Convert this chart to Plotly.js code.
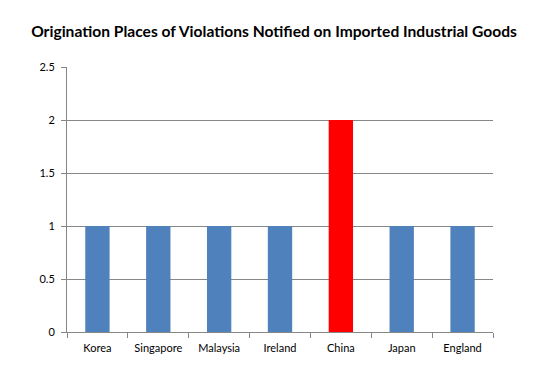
<!DOCTYPE html>
<html>
<head>
<meta charset="utf-8">
<script src="https://cdn.plot.ly/plotly-3.0.1.min.js"></script>
<style>html,body{margin:0;padding:0;background:#fff;}#chart{width:548px;height:374px;}</style>
</head>
<body>
<div id="chart"></div>
<script>
const categories = ["Korea", "Singapore", "Malaysia", "Ireland", "China", "Japan", "England"];
const violations = [1, 1, 1, 1, 2, 1, 1];
const barColors = ["#4F81BD", "#4F81BD", "#4F81BD", "#4F81BD", "#FF0000", "#4F81BD", "#4F81BD"];
const yTicks = [0, 0.5, 1, 1.5, 2, 2.5];

const trace = {
  type: "bar",
  x: categories,
  y: violations,
  marker: {color: barColors, line: {width: 0}},
  width: 0.4,
  hoverinfo: "x+y"
};

const layout = {
  width: 548,
  height: 374,
  paper_bgcolor: "#fff",
  plot_bgcolor: "#fff",
  margin: {l: 67, r: 55, t: 67, b: 42},
  font: {family: "Lato, 'Liberation Sans', sans-serif", size: 11, color: "#000"},
  title: {
    text: "<b>Origination Places of Violations Notified on Imported Industrial Goods</b>",
    font: {family: "Lato, 'Liberation Sans', sans-serif", size: 15.6, color: "#000"},
    x: 0.5, xanchor: "center", y: 0.915, yanchor: "middle"
  },
  xaxis: {
    type: "category",
    showgrid: false,
    showline: true,
    linecolor: "#878787",
    linewidth: 1,
    ticks: "outside",
    tickson: "boundaries",
    ticklen: 5,
    tickcolor: "#878787",
    tickfont: {size: 11, color: "#000"},
    ticklabelstandoff: 6,
    fixedrange: true
  },
  yaxis: {
    range: [0, 2.5],
    tickvals: yTicks,
    ticktext: yTicks.map(String),
    showgrid: true,
    gridcolor: "#878787",
    gridwidth: 1,
    zeroline: false,
    showline: true,
    linecolor: "#878787",
    linewidth: 1,
    ticks: "outside",
    ticklen: 5,
    tickcolor: "#878787",
    tickfont: {size: 11, color: "#000"},
    ticklabelstandoff: 4,
    fixedrange: true
  },
  bargap: 0.6,
  showlegend: false
};

Plotly.newPlot("chart", [trace], layout, {displayModeBar: false, staticPlot: true});
</script>
</body>
</html>
